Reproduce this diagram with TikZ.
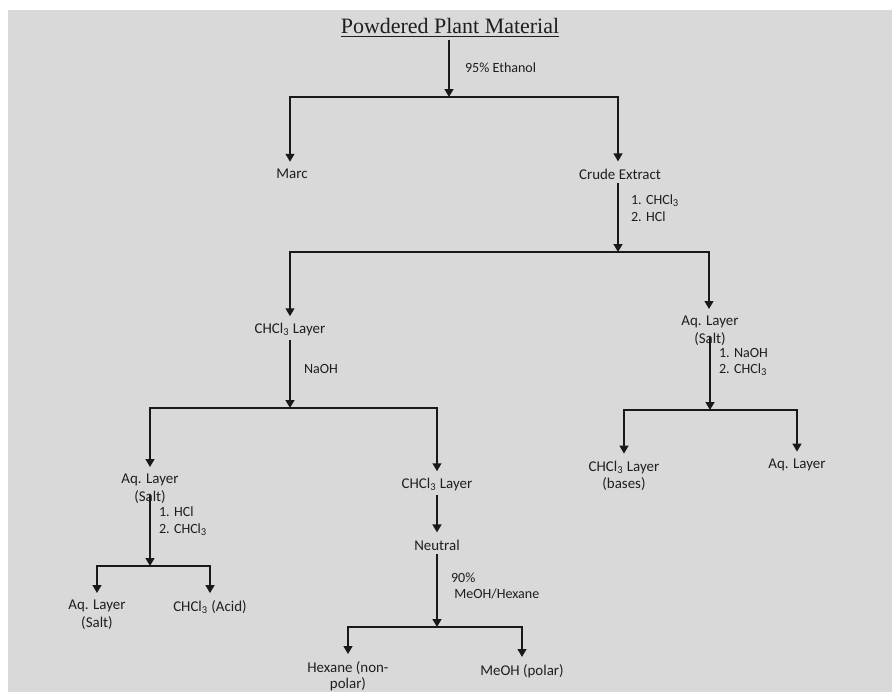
\documentclass[tikz,border=0pt]{standalone}
\usepackage{fontspec}
\setmainfont{Carlito}
\newfontfamily\titlefont{Liberation Serif}
\usepackage{tikz}
\usetikzlibrary{arrows.meta,positioning}
\usepackage{xcolor}
\definecolor{pgbg}{RGB}{217,217,217}
\definecolor{pgline}{RGB}{25,25,25}
\definecolor{pgtext}{RGB}{30,30,30}
\tikzstyle{arrow} = [line width=1.1pt,color=pgline,-{Triangle[width=5pt,length=4.5pt]}]
\tikzstyle{branch} = [line width=0.9pt,color=pgline,-{Triangle[width=5pt,length=4.5pt]}]
\tikzstyle{item} = [font=\fontsize{8.5}{10}\selectfont, text=pgtext, align=center, inner sep=2pt]
\tikzstyle{reagent} = [font=\fontsize{8}{9.5}\selectfont, text=pgtext, align=left, anchor=west, inner sep=1pt]
\newcommand{\chcl}{CHCl\textsubscript{3}}

\begin{document}
\begin{tikzpicture}[x=0.02cm, y=-0.02cm]
% Background
\useasboundingbox (0,0) rectangle (892,692);
\fill[white] (0,0) rectangle (892,692);
\fill[pgbg] (8,10) rectangle (892,692);

% Start
\node[font=\titlefont\fontsize{12.5}{14}\selectfont, text=pgtext, inner sep=1pt] (plant) at (450,28) {\underline{Powdered Plant Material}};
\coordinate (j1) at (449,97);
\draw[arrow] (plant.south -| j1) -- (j1);
\node[reagent] (ethanol) at (463,68) {95\% Ethanol};

% First split
\node[item] (marc) at (292,174) {Marc};
\node[item] (crude) at (620,174) {Crude Extract};
\draw[branch] (j1) -| ([yshift=2pt]marc.north -| 290,0);
\draw[branch] (j1) -| ([yshift=2pt]crude.north -| 618,0);

% Crude extract
\coordinate (j2) at (618,252);
\draw[arrow] (crude.south -| j2) -- (j2);
\node[reagent] (acidify) at (629,208) {1. \chcl\\2. HCl};

\node[item] (chclA) at (290,330) {\chcl{} Layer};
\node[item] (aqA) at (710,331) {Aq. Layer\\(Salt)};
\draw[branch] (j2) -| ([yshift=2pt]chclA.north);
\draw[branch] (j2) -| ([yshift=2pt]aqA.north -| 709,0);

% Chloroform layer
\coordinate (j3) at (290,408);
\draw[arrow] (chclA.south) -- (j3);
\node[reagent] (naoh) at (302,369) {NaOH};

\node[item] (aqB) at (150,489) {Aq. Layer\\(Salt)};
\node[item] (chclB) at (437,485) {\chcl{} Layer};
\draw[branch] (j3) -| ([yshift=2pt]aqB.north);
\draw[branch] (j3) -| ([yshift=2pt]chclB.north);

% Acids
\coordinate (j4) at (150,566);
\draw[arrow] ([yshift=7pt]aqB.south) -- (j4);
\node[reagent] (hcl) at (157,521) {1. HCl\\2. \chcl};

\node[item] (aqC) at (97,615) {Aq. Layer\\(Salt)};
\node[item] (acid) at (210,607) {\chcl{} (Acid)};
\draw[branch] (j4) -| ([yshift=2pt]aqC.north);
\draw[branch] (j4) -| ([yshift=2pt]acid.north);

% Neutrals
\node[item] (neutral) at (437,545) {Neutral};
\draw[arrow] (chclB.south) -- ([yshift=2pt]neutral.north);
\coordinate (j5) at (437,627);
\draw[arrow] (neutral.south) -- (j5);
\node[reagent] (meoh) at (449,586) {90\%\\\ MeOH/Hexane};

\node[item, font=\fontsize{8.5}{9}\selectfont] (hexane) at (348,676) {Hexane (non-\\polar)};
\node[item] (polar) at (522,671) {MeOH (polar)};
\draw[branch] (j5) -| ([yshift=2pt]hexane.north);
\draw[branch] (j5) -| ([yshift=2pt]polar.north);

% Bases
\coordinate (j6) at (710,410);
\draw[arrow] ([yshift=7pt]aqA.south -| j6) -- (j6);
\node[reagent] (basify) at (717,362) {1. NaOH\\2. \chcl};

\node[item] (bases) at (624,476) {\chcl{} Layer\\(bases)};
\node[item] (aqD) at (797,465) {Aq. Layer};
\draw[branch] (j6) -| ([yshift=2pt]bases.north);
\draw[branch] (j6) -| ([yshift=2pt]aqD.north);
\end{tikzpicture}
\end{document}
